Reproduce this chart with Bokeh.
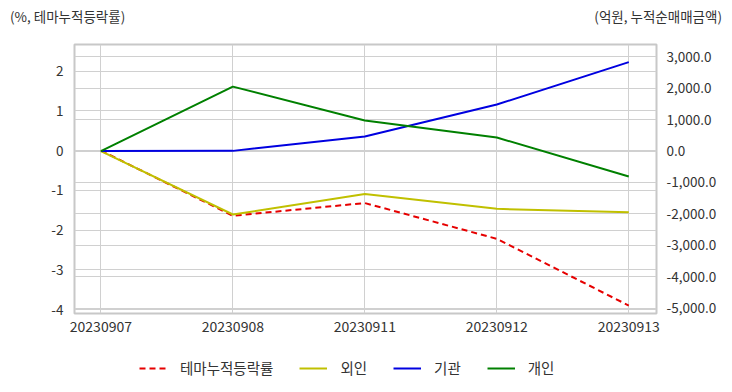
from bokeh.plotting import figure
from bokeh.models import (LinearAxis, Range1d, Grid, Legend, LegendItem, Div,
                          FixedTicker, NumeralTickFormatter, ColumnDataSource)
from bokeh.layouts import column
from bokeh.embed import file_html
from bokeh.resources import INLINE

dates = ["20230907", "20230908", "20230911", "20230912", "20230913"]
theme_pct = [0.0, -1.64, -1.32, -2.22, -3.90]
foreign = [0.0, -2020.0, -1365.0, -1840.0, -1950.0]
institution = [0.0, 5.0, 460.0, 1480.0, 2830.0]
individual = [0.0, 2050.0, 970.0, 430.0, -812.0]

left_label = "(%, 테마누적등락률)"
right_label = "(억원, 누적순매매금액)"
legend_names = ["테마누적등락률", "외인", "기관", "개인"]

FONT = "Noto Sans CJK KR"
TXT = "#333333"
GRID = "#d0d0d0"
COLORS = ["#e60000", "#c0c000", "#0000e0", "#008000"]
DASHES = ["6 4", "solid", "solid", "solid"]
COLS = ["theme", "foreign", "inst", "indiv"]
RANGES = ["default", "right", "right", "right"]

xs = list(range(len(dates)))
src = ColumnDataSource(dict(x=xs, theme=theme_pct, foreign=foreign,
                            inst=institution, indiv=individual))

header = Div(text=(
    '<div style="display:flex;justify-content:space-between;width:732px;'
    'font-family:\'Noto Sans CJK KR\';font-size:13.5px;color:#333333;'
    'line-height:16px;padding-top:8px;">'
    '<span style="padding-left:10px;">' + left_label + '</span>'
    '<span style="padding-right:10px;">' + right_label + '</span></div>'),
    width=732, height=36, margin=0)

p = figure(width=732, height=307, output_backend="svg", toolbar_location=None,
           x_range=Range1d(-0.2, 4.21), y_range=Range1d(-4.1, 2.67),
           min_border_left=74, min_border_right=76, min_border_top=8,
           min_border_bottom=30, margin=0)
p.extra_y_ranges = {"right": Range1d(-5170, 3390)}

p.outline_line_color = "#c8c8c8"
p.outline_line_width = 2

# left axis
ax = p.yaxis[0]
ax.ticker = FixedTicker(ticks=[-4, -3, -2, -1, 0, 1, 2])
ax.formatter = NumeralTickFormatter(format="0")
ax.axis_line_color = None
ax.major_tick_line_color = None
ax.minor_tick_line_color = None
ax.major_label_text_font = FONT
ax.major_label_text_font_size = "13.5px"
ax.major_label_text_color = TXT
ax.major_label_standoff = 5

# x axis
xa = p.xaxis[0]
xa.ticker = FixedTicker(ticks=xs)
xa.major_label_overrides = {i: d for i, d in enumerate(dates)}
xa.axis_line_color = None
xa.major_tick_line_color = None
xa.minor_tick_line_color = None
xa.major_label_text_font = FONT
xa.major_label_text_font_size = "14px"
xa.major_label_text_color = TXT
xa.major_label_standoff = 1

# right axis
ra = LinearAxis(y_range_name="right",
                ticker=FixedTicker(ticks=[-5000, -4000, -3000, -2000, -1000, 0, 1000, 2000, 3000]),
                formatter=NumeralTickFormatter(format="0,0.0"))
ra.axis_line_color = None
ra.major_tick_line_color = None
ra.minor_tick_line_color = None
ra.major_label_text_font = FONT
ra.major_label_text_font_size = "13.5px"
ra.major_label_text_color = TXT
ra.major_label_standoff = 4
p.add_layout(ra, "right")

p.xgrid.grid_line_color = GRID
p.ygrid.grid_line_color = GRID
p.add_layout(Grid(dimension=1, ticker=ra.ticker, y_range_name="right",
                  grid_line_color=GRID))

for col, c, d, rn in zip(COLS, COLORS, DASHES, RANGES):
    p.line("x", col, source=src, y_range_name=rn, line_color=c,
           line_width=2, line_dash=d)

# legend strip below the chart (its lines lie outside its own visible range)
lg = figure(width=732, height=49, output_backend="svg", toolbar_location=None,
            x_range=Range1d(-0.2, 4.21), y_range=Range1d(100000, 100001),
            min_border=0, min_border_left=0, min_border_right=0,
            min_border_top=0, min_border_bottom=0, margin=0)
lg.axis.visible = False
lg.grid.visible = False
lg.outline_line_color = None
items = []
for name, col, c, d in zip(legend_names, COLS, COLORS, DASHES):
    r = lg.line("x", col, source=src, line_color=c, line_width=2, line_dash=d)
    items.append(LegendItem(label=name, renderers=[r]))
legend = Legend(items=items, orientation="horizontal", location=(65, 14),
                border_line_color=None, background_fill_alpha=0,
                label_text_font=FONT, label_text_font_size="14.5px",
                label_text_color=TXT, glyph_width=28, label_standoff=13,
                spacing=26, margin=0, padding=0)
lg.add_layout(legend, "center")

open("out.html", "w").write(file_html(column(header, p, lg, spacing=0), INLINE))
